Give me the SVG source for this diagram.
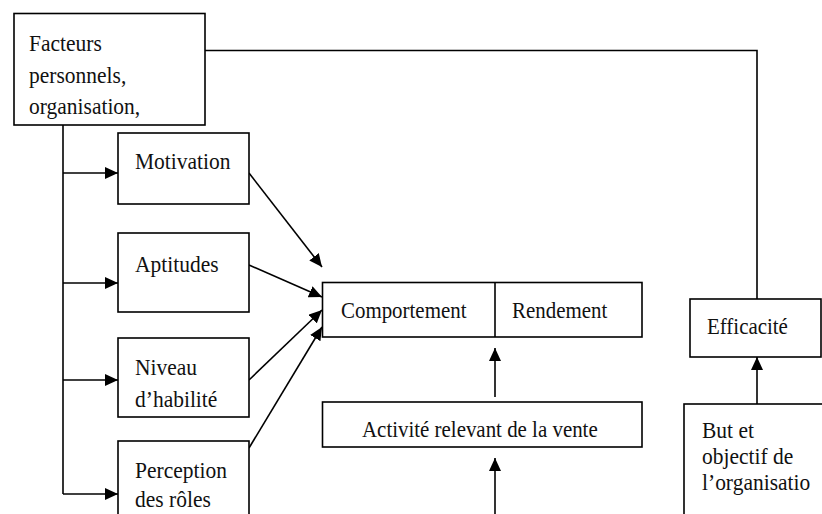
<svg xmlns="http://www.w3.org/2000/svg" width="822" height="514" viewBox="0 0 822 514">
  <defs>
    <style>
      .box { fill: #ffffff; stroke: #000000; stroke-width: 1.6; }
      .lbl { font-family: "Liberation Serif", "Times New Roman", serif; font-size: 23px; fill: #111111; }
      .wire { fill: none; stroke: #000000; stroke-width: 1.6; }
      .arrow { fill: none; stroke: #000000; stroke-width: 1.6; marker-end: url(#head); }
    </style>
    <marker id="head" viewBox="0 0 13 12" refX="13" refY="6" markerWidth="13" markerHeight="12" markerUnits="userSpaceOnUse" orient="auto">
      <path d="M0,0 L13,6 L0,12 z" fill="#000000"/>
    </marker>
  </defs>
  <rect width="822" height="514" fill="#ffffff"/>

  <g id="connectors">
    <!-- trunk from the top-left box down to the four factor boxes -->
    <path class="wire" d="M63,125 V494"/>
    <path class="arrow" d="M63,173 H118"/>
    <path class="arrow" d="M63,283 H118"/>
    <path class="arrow" d="M63,380 H118"/>
    <path class="arrow" d="M63,494 H118"/>
    <!-- factors converging on behaviour -->
    <path class="arrow" d="M249,173 L322,267"/>
    <path class="arrow" d="M249,265 L322,297"/>
    <path class="arrow" d="M249,380 L322,310"/>
    <path class="arrow" d="M249,448 L322,327"/>
    <!-- vertical flows -->
    <path class="arrow" d="M495,397 V348"/>
    <path class="arrow" d="M495,520 V458"/>
    <!-- long link to effectiveness -->
    <path class="wire" d="M205,50.5 H757 V299"/>
    <path class="arrow" d="M757,404 V357"/>
  </g>

  <!-- labels use a slightly narrowed serif face -->
  <g id="facteurs">
    <rect class="box" x="14" y="13.5" width="191" height="111.5"/>
    <text class="lbl" transform="translate(29 51) scale(0.935 1)">Facteurs</text>
    <text class="lbl" transform="translate(29 82.5) scale(0.935 1)">personnels,</text>
    <text class="lbl" transform="translate(29 113.5) scale(0.935 1)">organisation,</text>
  </g>

  <g id="motivation">
    <rect class="box" x="118" y="133" width="131" height="71"/>
    <text class="lbl" transform="translate(135 169) scale(0.935 1)">Motivation</text>
  </g>

  <g id="aptitudes">
    <rect class="box" x="118" y="233" width="131" height="79"/>
    <text class="lbl" transform="translate(135 272) scale(0.935 1)">Aptitudes</text>
  </g>

  <g id="niveau">
    <rect class="box" x="118" y="338" width="131" height="79"/>
    <text class="lbl" transform="translate(135 375) scale(0.935 1)">Niveau</text>
    <text class="lbl" transform="translate(135 407) scale(0.935 1)">d’habilité</text>
  </g>

  <g id="perception">
    <rect class="box" x="118" y="441" width="131" height="90"/>
    <text class="lbl" transform="translate(135 478) scale(0.935 1)">Perception</text>
    <text class="lbl" transform="translate(135 507) scale(0.935 1)">des rôles</text>
  </g>

  <g id="comportement-rendement">
    <rect class="box" x="322.5" y="282.5" width="319.5" height="54.5"/>
    <path class="wire" d="M495,282.5 V337"/>
    <text class="lbl" transform="translate(341 318) scale(0.91 1)">Comportement</text>
    <text class="lbl" transform="translate(512 318) scale(0.91 1)">Rendement</text>
  </g>

  <g id="activite">
    <rect class="box" x="322.5" y="402" width="319.5" height="45"/>
    <text class="lbl" transform="translate(362 437) scale(0.91 1)">Activité relevant de la vente</text>
  </g>

  <g id="efficacite">
    <rect class="box" x="690" y="299" width="131" height="58"/>
    <text class="lbl" transform="translate(707 334) scale(0.91 1)">Efficacité</text>
  </g>

  <g id="but">
    <rect class="box" x="684" y="404" width="200" height="150"/>
    <text class="lbl" transform="translate(702 438) scale(0.935 1)">But et</text>
    <text class="lbl" transform="translate(702 464) scale(0.935 1)">objectif de</text>
    <text class="lbl" transform="translate(702 490) scale(0.935 1)">l’organisatio</text>
  </g>
</svg>
